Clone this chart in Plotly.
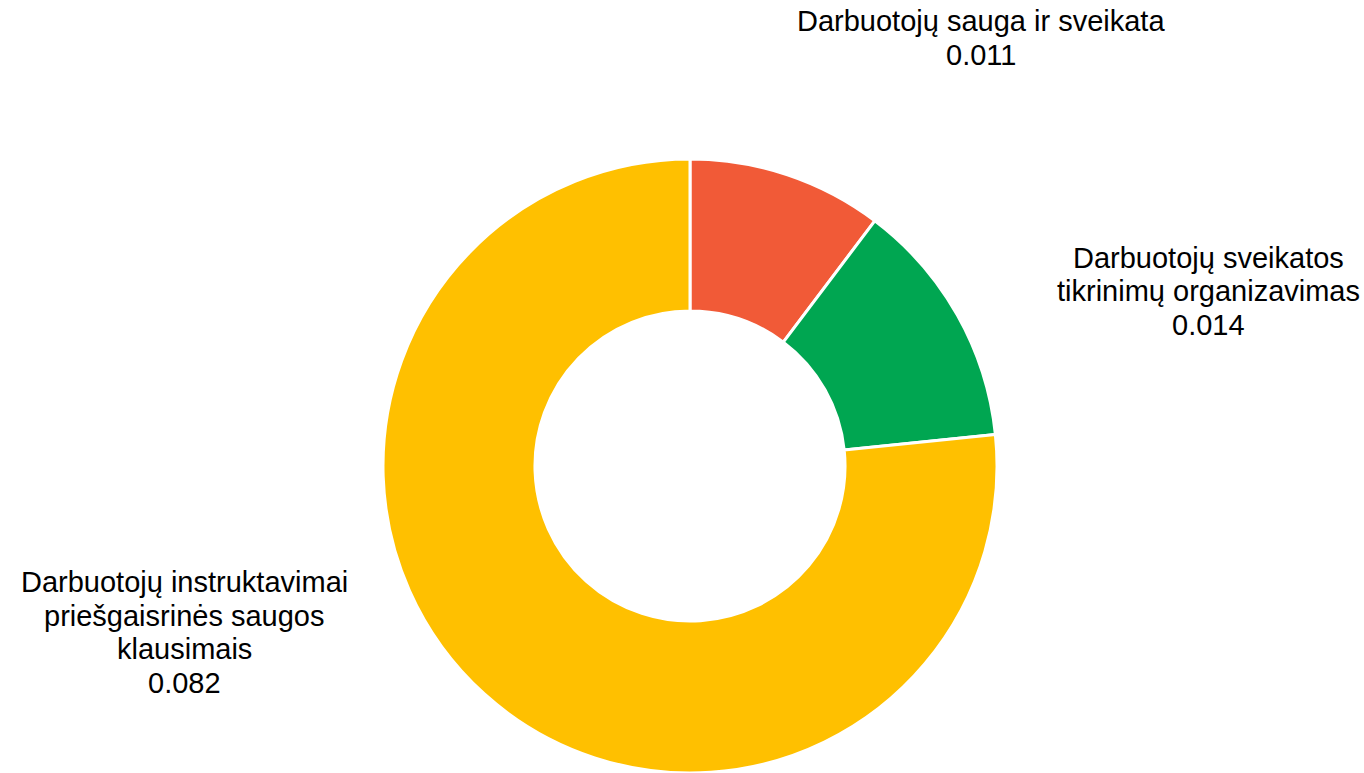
import plotly.graph_objects as go

categories = [
    "Darbuotojų sauga ir sveikata",
    "Darbuotojų sveikatos<br>tikrinimų organizavimas",
    "Darbuotojų instruktavimai<br>priešgaisrinės saugos<br>klausimais",
]
values = [0.011, 0.014, 0.082]
colors = ["#F15A37", "#00A651", "#FFC000"]

W, H = 1364, 773
cx, cy, r = 690, 466, 307

fig = go.Figure(go.Pie(
    labels=categories,
    values=values,
    hole=0.505,
    sort=False,
    direction="clockwise",
    rotation=0,
    marker=dict(colors=colors, line=dict(color="white", width=3)),
    textinfo="none",
    hoverinfo="label+value",
    domain=dict(x=[(cx - r) / W, (cx + r) / W], y=[(H - cy - r) / H, (H - cy + r) / H]),
    showlegend=False,
))

# label block placement: (center x, cap-center y of first line) in pixels
label_pos = [(981, 21), (1208, 258), (184, 582)]
line_step = 33.5
for cat, val, (px, py) in zip(categories, values, label_pos):
    lines = cat.split("<br>") + [f"{val:.3f}"]
    for i, ln in enumerate(lines):
        fig.add_annotation(
            x=px / W, y=1 - (py + i * line_step) / H, xref="paper", yref="paper",
            text=ln, showarrow=False,
            xanchor="center", yanchor="middle", align="center",
            font=dict(family="Liberation Sans, Arial, sans-serif", size=29, color="#000000"),
        )

fig.update_layout(
    width=W, height=H,
    margin=dict(l=0, r=0, t=0, b=0),
    paper_bgcolor="white", plot_bgcolor="white",
)

fig.write_html("out.html", config={"displayModeBar": False},
               post_script="document.body.style.margin='0';")
